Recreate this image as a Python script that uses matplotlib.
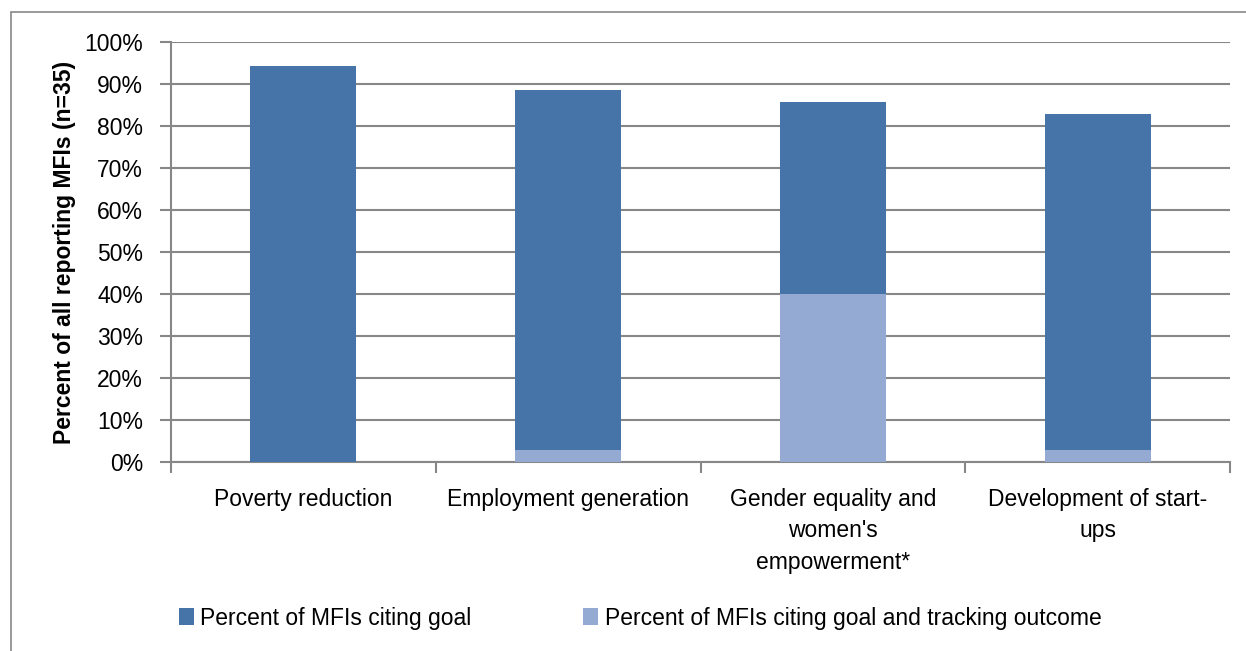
import numpy as np
import matplotlib.pyplot as plt
from matplotlib.patches import Rectangle

categories = ["Poverty reduction", "Employment generation",
              "Gender equality and\nwomen's\nempowerment*", "Development of start-\nups"]
citing_goal = [94.3, 88.6, 85.7, 82.9]
citing_and_tracking = [0.0, 2.9, 40.0, 2.9]
series_names = ["Percent of MFIs citing goal",
                "Percent of MFIs citing goal and tracking outcome"]
yticks = np.arange(0, 101, 10)

dark = "#4674A8"
light = "#95AAD3"
grid = "#878787"
fs = 16.5

plt.rcParams["font.family"] = ["Liberation Sans", "DejaVu Sans"]

fig = plt.figure(figsize=(12.46, 6.51), dpi=100)
ax = fig.add_axes([171 / 1246, 1 - 462 / 651, (1230 - 171) / 1246, (462 - 42) / 651])

x = np.arange(len(categories))
ax.bar(x, citing_goal, width=0.4, color=dark, zorder=3, label=series_names[0])
ax.bar(x, citing_and_tracking, width=0.4, color=light, zorder=4, label=series_names[1])

ax.set_xlim(-0.5, len(categories) - 0.5)
ax.set_ylim(0, 100)
ax.set_yticks(yticks)
ax.set_yticklabels([f"{v}%" for v in yticks], fontsize=fs)
ax.yaxis.grid(True, color=grid, linewidth=1.5, zorder=0)
ax.tick_params(axis="y", length=8, width=1.5, color=grid, pad=12)

ax.set_xticks(x)
ax.set_xticklabels(categories, fontsize=fs, linespacing=1.45, va="top")
ax.tick_params(axis="x", length=0, pad=19)
ax.set_xticks(np.arange(-0.5, len(categories)), minor=True)
ax.tick_params(axis="x", which="minor", length=8, width=1.5, color=grid)

for side in ["top", "right"]:
    ax.spines[side].set_visible(False)
for side in ["left", "bottom"]:
    ax.spines[side].set_color(grid)
    ax.spines[side].set_linewidth(1.5)

ax.set_ylabel("Percent of all reporting MFIs (n=35)", fontsize=16.5,
              fontweight="bold", labelpad=6)

fig.legend(loc="center left", bbox_to_anchor=(158 / 1246, 1 - 618 / 651), ncol=2,
           frameon=False, fontsize=fs, handlelength=0.65, handleheight=0.7,
           handletextpad=0.3, columnspacing=4.85)

# outer chart frame
fig.patches.append(Rectangle((11 / 1246, -0.01), 1.1, 1 - 12 / 651 + 0.01,
                             transform=fig.transFigure, fill=False,
                             edgecolor=grid, linewidth=1.2))

fig.savefig("out.png", dpi=100)
